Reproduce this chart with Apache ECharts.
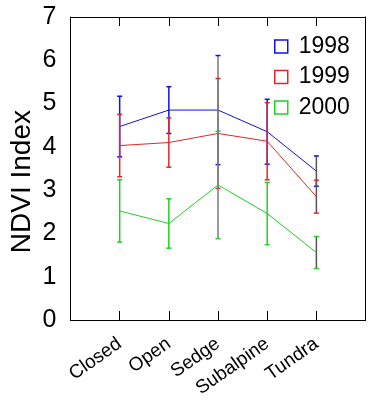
<!DOCTYPE html>
<html><head><meta charset="utf-8">
<script src="https://cdn.jsdelivr.net/npm/echarts@6/dist/echarts.min.js"></script>
<style>html,body{margin:0;padding:0;background:#fff}#c{width:368px;height:400px}</style>
</head><body><div id="c"></div>
<script>
const categories = ['Closed', 'Open', 'Sedge', 'Subalpine', 'Tundra'];
const yTicks = [0, 1, 2, 3, 4, 5, 6, 7];
const seriesNames = ['1998', '1999', '2000'];
const mean1998 = [4.47, 4.85, 4.85, 4.35, 3.44];
const err1998  = [0.70, 0.54, 1.26, 0.75, 0.35];
const mean1999 = [4.03, 4.10, 4.31, 4.13, 2.85];
const err1999  = [0.72, 0.57, 1.27, 0.89, 0.38];
const mean2000 = [2.52, 2.23, 3.12, 2.46, 1.56];
const err2000  = [0.72, 0.57, 1.24, 0.72, 0.37];

const colors = ['#1010ee', '#e02828', '#22d022'];
const stemOverride = { Sedge: '#7a7a7a', Tundra: '#555555' };
const FONT = 'Liberation Sans, Arial, sans-serif';
const axisCats = [''].concat(categories, ['']);

const means = [mean1998, mean1999, mean2000];
const errs = [err1998, err1999, err2000];

function errData(m, e) {
  return categories.map((c, i) => [c, m[i] - e[i], m[i] + e[i]]);
}
function makeErr(idx) {
  const col = colors[idx];
  return {
    type: 'custom', name: seriesNames[idx] + ' err', z: 3 + idx,
    xAxisIndex: 0, yAxisIndex: 0,
    data: errData(means[idx], errs[idx]),
    renderItem: function (params, api) {
      const x = api.value(0);
      const lo = api.coord([x, api.value(1)]);
      const hi = api.coord([x, api.value(2)]);
      const cat = axisCats[x];
      const stemCol = stemOverride[cat] || col;
      const hw = 2.5;
      return {
        type: 'group',
        children: [
          { type: 'line', shape: { x1: lo[0], y1: lo[1], x2: hi[0], y2: hi[1] }, style: { stroke: stemCol, lineWidth: 1.5 } },
          { type: 'line', shape: { x1: lo[0] - hw, y1: lo[1], x2: lo[0] + hw, y2: lo[1] }, style: { stroke: col, lineWidth: 1.5 } },
          { type: 'line', shape: { x1: hi[0] - hw, y1: hi[1], x2: hi[0] + hw, y2: hi[1] }, style: { stroke: col, lineWidth: 1.5 } }
        ]
      };
    }
  };
}
function makeLine(idx) {
  return {
    type: 'line', name: seriesNames[idx], z: 3 + idx,
    xAxisIndex: 0, yAxisIndex: 0,
    data: categories.map((c, i) => [c, means[idx][i]]),
    symbol: 'none', silent: true, animation: false,
    lineStyle: { color: colors[idx], width: 1 },
    itemStyle: { color: colors[idx] }
  };
}

const innerTick = (i) => i > 0 && i < axisCats.length - 1;
const chart = echarts.init(document.getElementById('c'), null, { renderer: 'canvas' });
const axisLine = { show: true, onZero: false, lineStyle: { color: '#000', width: 1 } };
chart.setOption({
  animation: false,
  backgroundColor: '#fff',
  textStyle: { fontFamily: FONT },
  grid: { left: 70.5, top: 17, width: 300, bottom: 79, containLabel: false },
  legend: {
    orient: 'vertical', left: 274, top: 35, itemGap: 7.5, padding: 0,
    itemWidth: 13, itemHeight: 13,
    textStyle: { fontFamily: FONT, fontSize: 23, color: '#000', lineHeight: 23, padding: [0, 0, 0, 6] },
    data: seriesNames.map((n, i) => ({
      name: n, icon: 'rect',
      itemStyle: { color: 'transparent', borderColor: colors[i], borderWidth: 1.5 }
    }))
  },
  xAxis: [
    { type: 'category', data: axisCats, boundaryGap: false, position: 'bottom',
      axisLine: axisLine, axisTick: { inside: true, length: 9, interval: innerTick, lineStyle: { color: '#000' } },
      axisLabel: { rotate: 35, fontSize: 19, color: '#000', fontFamily: FONT, margin: 22, interval: 0 },
      splitLine: { show: false } },
    { type: 'category', data: axisCats, boundaryGap: false, position: 'top',
      axisLine: axisLine, axisTick: { inside: true, length: 9, interval: innerTick, lineStyle: { color: '#000' } },
      axisLabel: { show: false }, splitLine: { show: false } }
  ],
  yAxis: [
    { type: 'value', min: yTicks[0], max: yTicks[yTicks.length - 1], interval: 1, position: 'left',
      axisLine: axisLine, axisTick: { inside: true, length: 9, lineStyle: { color: '#000' } },
      axisLabel: { fontSize: 25, color: '#000', fontFamily: FONT, margin: 14 },
      splitLine: { show: false } },
    { type: 'value', min: yTicks[0], max: yTicks[yTicks.length - 1], interval: 1, position: 'right',
      axisLine: axisLine, axisTick: { inside: true, length: 9, lineStyle: { color: '#000' } },
      axisLabel: { show: false }, splitLine: { show: false } }
  ],
  graphic: [
    { type: 'text', left: 8, top: 110, rotation: Math.PI / 2, originX: 0, originY: 0,
      style: { text: 'NDVI Index', fontSize: 28, fontFamily: FONT, fill: '#000' } }
  ],
  series: [makeErr(0), makeLine(0), makeErr(1), makeLine(1), makeErr(2), makeLine(2)]
});
</script></body></html>
